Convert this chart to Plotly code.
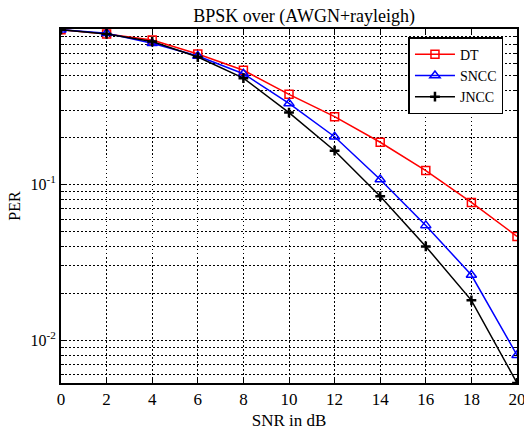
import plotly.graph_objects as go

snr = [0, 2, 4, 6, 8, 10, 12, 14, 16, 18, 20]
dt = [0.99, 0.93, 0.85, 0.69, 0.543, 0.38, 0.273, 0.187, 0.123, 0.0767, 0.0464]
sncc = [0.99, 0.94, 0.81, 0.67, 0.516, 0.332, 0.203, 0.1077, 0.0546, 0.0262, 0.0080]
jncc = [0.99, 0.93, 0.83, 0.66, 0.483, 0.290, 0.165, 0.084, 0.040, 0.018, 0.0053]

xticks = list(range(0, 21, 2))
yticks = [0.1, 0.01]
ytext = ["10<sup>-1</sup>", "10<sup>-2</sup>"]

font = "Times New Roman"
dots = "1.5px,2.5px"

fig = go.Figure()
fig.add_trace(go.Scatter(x=snr, y=dt, name="DT", mode="lines+markers",
                         line=dict(color="red", width=1.5),
                         marker=dict(symbol="square-open", size=8, color="red", line=dict(width=1.5))))
fig.add_trace(go.Scatter(x=snr, y=sncc, name="SNCC", mode="lines+markers",
                         line=dict(color="blue", width=1.5),
                         marker=dict(symbol="triangle-up-open", size=9, color="blue", line=dict(width=1.5))))
fig.add_trace(go.Scatter(x=snr, y=jncc, name="JNCC", mode="lines+markers",
                         line=dict(color="black", width=1.5),
                         marker=dict(symbol="cross-thin", size=7, color="black", line=dict(width=2.5, color="black"))))

fig.update_layout(
    width=524, height=434,
    margin=dict(l=61, r=7, t=29, b=51, autoexpand=False),
    paper_bgcolor="white", plot_bgcolor="white",
    font=dict(family=font, size=16, color="black"),
    title=dict(text="BPSK over (AWGN+rayleigh)", x=0.5805, xanchor="center", y=0.963, yanchor="middle",
               font=dict(family=font, size=18, color="black")),
    showlegend=True,
    legend=dict(x=0.762, y=0.977, xanchor="left", yanchor="top",
                bordercolor="black", borderwidth=1.5, bgcolor="white",
                font=dict(family=font, size=14), tracegroupgap=0, itemwidth=40),
)
fig.update_xaxes(range=[0, 20], tickvals=xticks, ticks="inside", ticklen=5, tickcolor="black",
                 showline=True, linecolor="black", linewidth=2, mirror="ticks",
                 showgrid=True, gridcolor="black", griddash=dots, gridwidth=1.2,
                 zeroline=False, automargin=False, ticklabeloverflow="allow",
                 title=dict(text="SNR in dB", font=dict(family=font, size=17), standoff=6),
                 tickfont=dict(family=font, size=17))
fig.update_yaxes(type="log", range=[-2.276, 0], tickvals=yticks, ticktext=ytext,
                 ticks="inside", ticklen=5, tickcolor="black",
                 showline=True, linecolor="black", linewidth=2, mirror="ticks",
                 showgrid=True, gridcolor="black", griddash=dots, gridwidth=1.2,
                 minor=dict(ticks="inside", ticklen=3, tickcolor="black", showgrid=True,
                            gridcolor="black", griddash=dots, gridwidth=1.2, dtick="D1"),
                 zeroline=False, automargin=False,
                 title=dict(text="PER", font=dict(family=font, size=16), standoff=6),
                 tickfont=dict(family=font, size=16))

fig.write_html("out.html", config={"displayModeBar": False},
               post_script="document.body.style.margin='0';document.body.style.padding='0';")
